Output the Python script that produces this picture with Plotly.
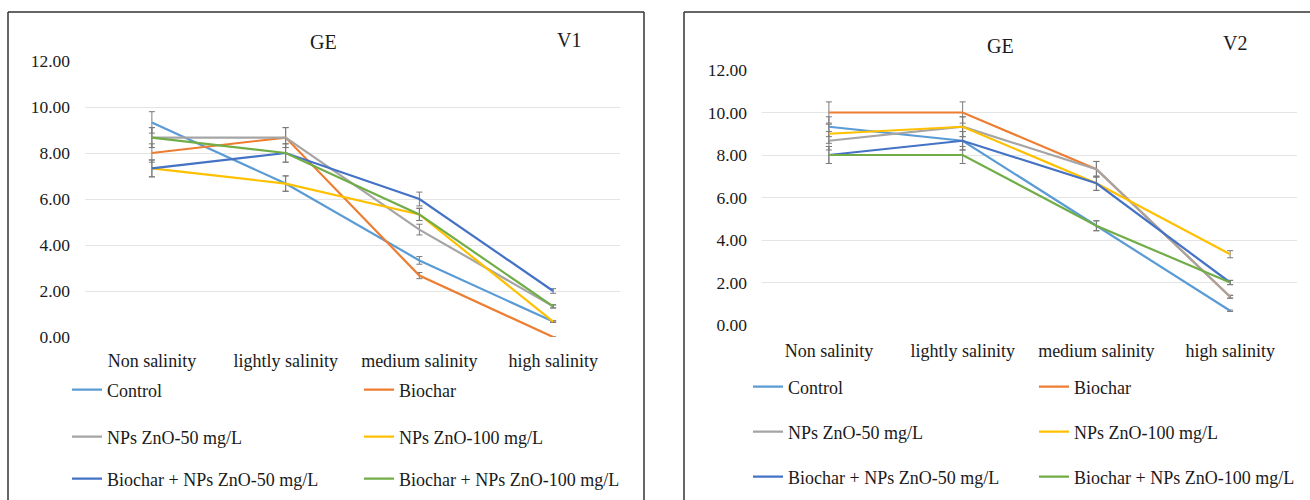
import plotly.graph_objects as go

W, H = 1310, 500

categories = ["Non salinity", "lightly salinity", "medium salinity", "high salinity"]
series_names = ["Control", "Biochar", "NPs ZnO-50 mg/L", "NPs ZnO-100 mg/L",
                "Biochar + NPs ZnO-50 mg/L", "Biochar + NPs ZnO-100 mg/L"]
colors = ["#5B9BD5", "#ED7D31", "#A5A5A5", "#FFC000", "#4472C4", "#70AD47"]

# V1 panel values
v1_control = [9.33, 6.67, 3.33, 0.67]
v1_biochar = [8.00, 8.67, 2.67, 0.00]
v1_zno50 = [8.67, 8.67, 4.67, 1.33]
v1_zno100 = [7.33, 6.67, 5.33, 0.67]
v1_bio_zno50 = [7.33, 8.00, 6.00, 2.00]
v1_bio_zno100 = [8.67, 8.00, 5.33, 1.33]

# V2 panel values
v2_control = [9.33, 8.67, 4.67, 0.67]
v2_biochar = [10.00, 10.00, 7.33, 1.33]
v2_zno50 = [8.67, 9.33, 7.33, 1.33]
v2_zno100 = [9.00, 9.33, 6.67, 3.33]
v2_bio_zno50 = [8.00, 8.67, 6.67, 2.00]
v2_bio_zno100 = [8.00, 8.00, 4.67, 2.00]

error_percent = 5  # Excel-style percentage error bars

yticks = [0, 2, 4, 6, 8, 10, 12]
ytick_text = ["0.00", "2.00", "4.00", "6.00", "8.00", "10.00", "12.00"]

v1 = [v1_control, v1_biochar, v1_zno50, v1_zno100, v1_bio_zno50, v1_bio_zno100]
v2 = [v2_control, v2_biochar, v2_zno50, v2_zno100, v2_bio_zno50, v2_bio_zno100]

FONT = "Liberation Serif"
TXT = "#1a1a1a"

def px(x):
    return x / W

def py(y):
    return 1 - y / H

fig = go.Figure()

# legend placement (pixel) for each panel: columns x, rows y
leg_left_cols = [67, 359]
leg_left_rows = [390, 437, 479]
leg_right_cols = [748, 1034]
leg_right_rows = [387, 432, 477]

layout_legends = {}
li = 0
for panel, (vals, xa, ya, cols, rows) in enumerate([
        (v1, "x", "y", leg_left_cols, leg_left_rows),
        (v2, "x2", "y2", leg_right_cols, leg_right_rows)]):
    for i, name in enumerate(series_names):
        li += 1
        lname = "legend" if li == 1 else f"legend{li}"
        fig.add_trace(go.Scatter(
            x=categories, y=vals[i], name=name, mode="lines",
            line=dict(color=colors[i], width=2.2),
            error_y=dict(type="percent", value=error_percent, color="#7a7a7a",
                         thickness=1, width=3),
            xaxis=xa, yaxis=ya, legend=lname, hoverinfo="x+y+name"))
        layout_legends[lname] = dict(
            x=px(cols[i % 2]), y=py(rows[i // 2]), xanchor="left", yanchor="middle",
            xref="paper", yref="paper", bgcolor="rgba(0,0,0,0)",
            font=dict(family=FONT, size=18, color=TXT), itemwidth=30,
            tracegroupgap=0)

xaxis_common = dict(showline=False, zeroline=False, ticks="",
                    tickfont=dict(family=FONT, size=18, color=TXT))
yaxis_common = dict(showline=False, zeroline=False, ticks="",
                    tickfont=dict(family=FONT, size=17.5, color=TXT))

fig.update_layout(
    width=W, height=H, margin=dict(l=0, r=0, t=0, b=0, pad=0, autoexpand=False),
    paper_bgcolor="white", plot_bgcolor="white",
    font=dict(family=FONT, color=TXT),
    showlegend=True,
    xaxis=dict(domain=[px(85), px(620)], anchor="y", type="category",
               range=[-0.5, 3.5], showgrid=False, ticklabelstandoff=11, **xaxis_common),
    yaxis=dict(domain=[py(337), py(61)], anchor="x", range=[0, 12],
               tickvals=yticks, ticktext=ytick_text, showgrid=True,
               gridcolor="#e4e4e4", gridwidth=1, ticklabelstandoff=14, **yaxis_common),
    xaxis2=dict(domain=[px(762), px(1297)], anchor="y2", type="category",
                range=[-0.5, 3.5], showgrid=False, ticklabelstandoff=13, **xaxis_common),
    yaxis2=dict(domain=[py(325), py(70)], anchor="x2", range=[0, 12],
                tickvals=yticks, ticktext=ytick_text, showgrid=True,
                gridcolor="#e4e4e4", gridwidth=1, ticklabelstandoff=14, **yaxis_common),
    **layout_legends,
)

# titles
for text, x, y in [("GE", 323, 42), ("V1", 569, 40), ("GE", 1000, 46), ("V2", 1235, 43)]:
    fig.add_annotation(text=text, x=px(x), y=py(y), xref="paper", yref="paper",
                       showarrow=False, xanchor="center", yanchor="middle",
                       font=dict(family=FONT, size=20, color=TXT))

# panel borders
border = dict(color="#333333", width=1.5)
for x0, y0, x1, y1 in [(8, 12, 644, 12), (8, 12, 8, 505), (644, 12, 644, 505),
                       (684, 12, 1315, 12), (684, 12, 684, 505)]:
    fig.add_shape(type="line", xref="paper", yref="paper",
                  x0=px(x0), y0=py(y0), x1=px(x1), y1=py(y1), line=border)

fig.write_html("out.html", config={"displayModeBar": False},
               post_script="document.body.style.margin='0px';document.body.style.overflow='hidden';")
